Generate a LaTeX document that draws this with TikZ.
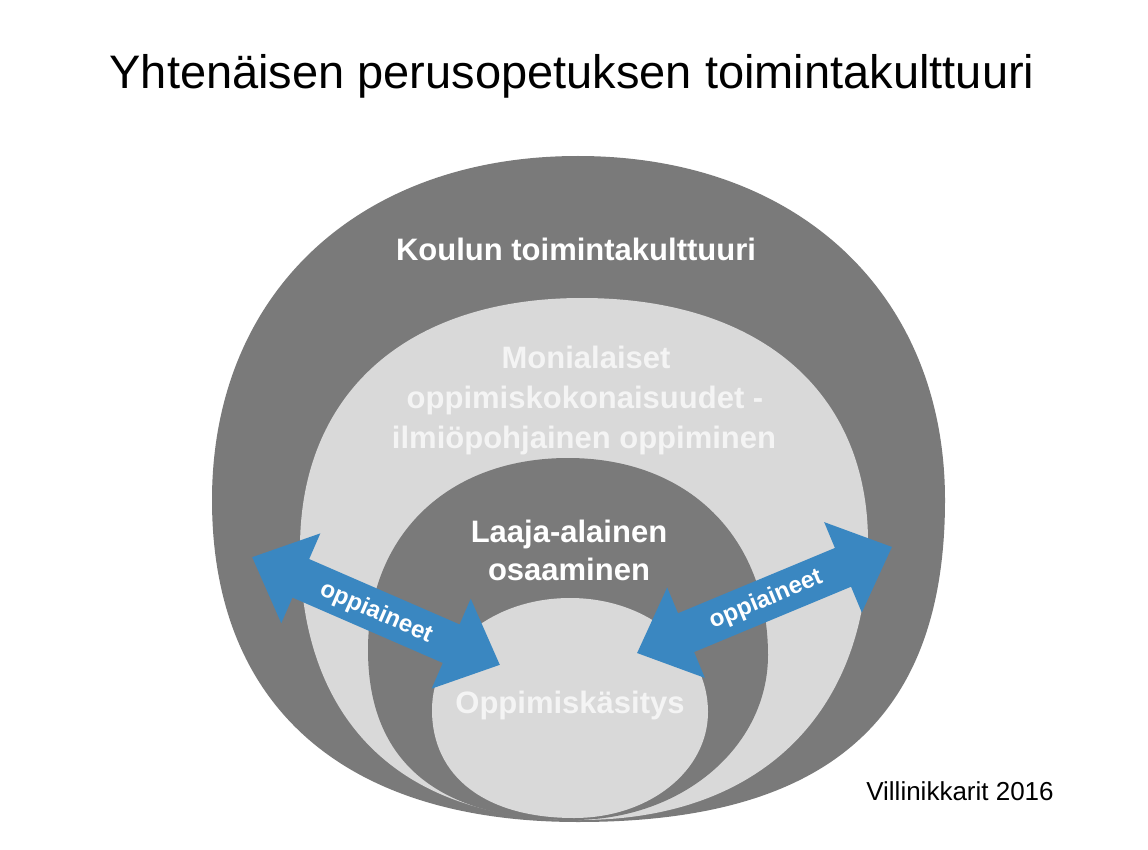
\documentclass[tikz,border=0pt]{standalone}
\usepackage{fontspec}
\setmainfont{Liberation Sans}
\definecolor{ringdark}{RGB}{122,122,122}
\definecolor{ringlight}{RGB}{217,217,217}
\definecolor{arrowblue}{RGB}{58,135,193}
\definecolor{softwhite}{RGB}{244,244,244}
\begin{document}
\begin{tikzpicture}[x=1pt,y=-1pt,
  bigtext/.style={font=\fontsize{31}{36}\selectfont\bfseries, inner sep=0pt, anchor=base},
  ondark/.style={text=white},
  onlight/.style={text=softwhite},
  arrowtext/.style={font=\fontsize{24}{28}\selectfont\bfseries, text=white, inner sep=0pt},
  bluearrow/.style={fill=arrowblue}]
\useasboundingbox (0,0) rectangle (1148,850);
\fill[white] (0,0) rectangle (1148,850);
% outer ring
\fill[ringdark] (578,822) .. controls (344,822) and (212,706) .. (212,500)
  .. controls (212,294) and (358,156) .. (578,156)
  .. controls (798,156) and (945,294) .. (945,500)
  .. controls (945,719) and (828,822) .. (578,822) -- cycle;
% second ring
\fill[ringlight] (580,820) .. controls (401,820) and (300,722) .. (300,548)
  .. controls (300,393) and (407,298) .. (582,298)
  .. controls (759,298) and (868,391) .. (868,542)
  .. controls (868,714) and (759,820) .. (580,820) -- cycle;
% third ring
\fill[ringdark] (573,820) .. controls (438,820) and (368,762) .. (368,650)
  .. controls (368,535) and (448,458) .. (568,458)
  .. controls (688,458) and (768,537) .. (768,655)
  .. controls (768,747) and (682,820) .. (573,820) -- cycle;
% inner circle
\fill[ringlight] (574,818) .. controls (486,818) and (432,777) .. (432,710)
  .. controls (432,647) and (493,598) .. (570,598)
  .. controls (647,598) and (708,648) .. (708,712)
  .. controls (708,771) and (649,818) .. (574,818) -- cycle;
% arrows
\begin{scope}[shift={(376,611)},rotate=-23.5]
\fill[bluearrow] (-135,0) -- (-82,49) -- (-82,21) -- (82,21) -- (82,49) -- (135,0)
  -- (82,-49) -- (82,-21) -- (-82,-21) -- (-82,-49) -- cycle;
\end{scope}
\begin{scope}[shift={(764.5,600)},rotate=22.6]
\fill[bluearrow] (-138,0) -- (-85,49) -- (-85,21) -- (85,21) -- (85,49) -- (138,0)
  -- (85,-49) -- (85,-21) -- (-85,-21) -- (-85,-49) -- cycle;
\end{scope}
\node[arrowtext, rotate=-23.5] (al) at (376,613) {oppiaineet};
\node[arrowtext, rotate=22.6] (ar) at (766,600) {oppiaineet};
% texts
\node[font=\fontsize{47}{56}\selectfont, anchor=base, inner sep=0pt] (title) at (572,89)
  {Yhtenäisen perusopetuksen toimintakulttuuri};
\node[bigtext, ondark] (koulu) at (576,261) {Koulun toimintakulttuuri};
\node[bigtext, onlight] (m1) at (586,368) {Monialaiset};
\node[bigtext, onlight] (m2) at (585,408) {oppimiskokonaisuudet -};
\node[bigtext, onlight] (m3) at (584,448) {ilmiöpohjainen oppiminen};
\node[bigtext, ondark] (l1) at (569,542) {Laaja-alainen};
\node[bigtext, ondark] (l2) at (569,580) {osaaminen};
\node[bigtext, onlight] (op) at (570,713) {Oppimiskäsitys};
\node[font=\fontsize{26}{30}\selectfont, anchor=base, inner sep=0pt] (src) at (960,800)
  {Villinikkarit 2016};
\end{tikzpicture}
\end{document}
